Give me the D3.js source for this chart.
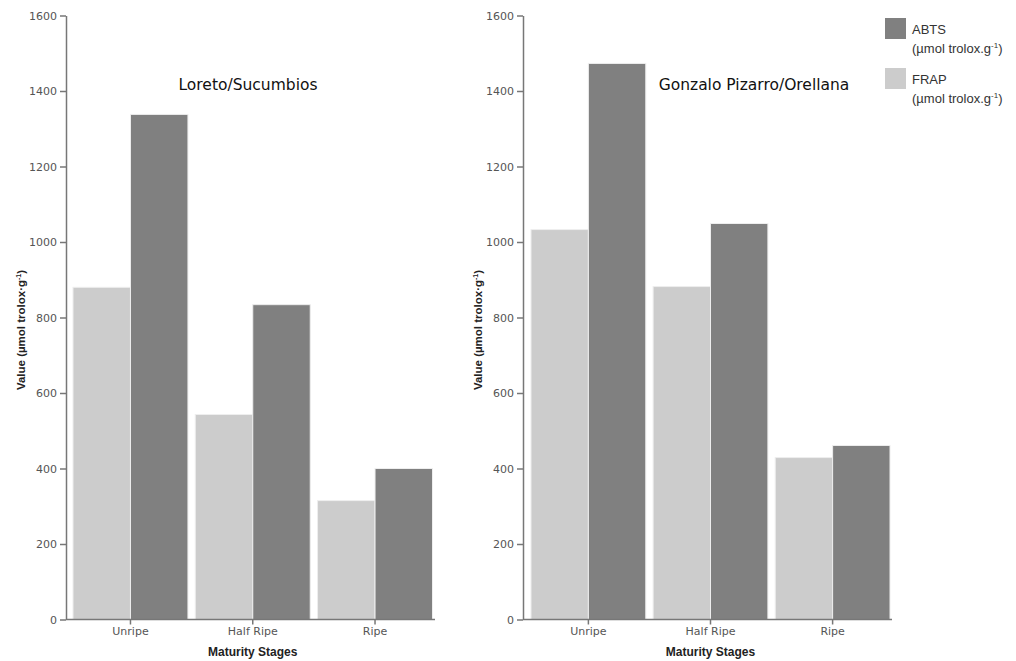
<!DOCTYPE html>
<html>
<head>
<meta charset="utf-8">
<script src="https://cdn.jsdelivr.net/npm/d3@7"></script>
<style>
  body { margin: 0; background: #fff; }
  svg { display: block; }
  .tick text { font-family: "DejaVu Sans", Verdana, sans-serif; font-size: 11px; fill: #555; }
  .tick line, .domain { stroke: #777; stroke-width: 1.5; }
</style>
</head>
<body>
<div id="chart"></div>
<script>
var stages = ["Unripe", "Half Ripe", "Ripe"];
var series = ["FRAP", "ABTS"];
var yTicks = [0, 200, 400, 600, 800, 1000, 1200, 1400, 1600];

var loretoFrap = [880, 543, 315];
var loretoAbts = [1338, 834, 400];
var gonzaloFrap = [1033, 882, 429];
var gonzaloAbts = [1473, 1049, 461];

var panels = [
    { title: "Loreto/Sucumbios", frap: loretoFrap, abts: loretoAbts, axisX: 66, x0: 73, x1: 432.5, xEnd: 435, titleX: 248 },
    { title: "Gonzalo Pizarro/Orellana", frap: gonzaloFrap, abts: gonzaloAbts, axisX: 523, x0: 531, x1: 890, xEnd: 892, titleX: 754 }
];

var width = 1016,
    height = 661,
    yTop = 15.5,
    yBottom = 619.5,
    colors = d3.scaleOrdinal()
        .domain(series)
        .range(["#cccccc", "#808080"]);

var svg = d3.select("#chart").append("svg")
    .attr("width", width)
    .attr("height", height);

var y = d3.scaleLinear()
    .domain([0, 1600])
    .range([yBottom, yTop]);

panels.forEach(function (p) {
    var g = svg.append("g");

    var x = d3.scaleBand()
        .domain(stages)
        .range([p.x0, p.x1])
        .paddingInner(0.06)
        .paddingOuter(0);

    var xs = d3.scaleBand()
        .domain(series)
        .range([0, x.bandwidth()]);

    var rows = stages.map(function (s, i) {
        return { stage: s, values: [
            { key: "FRAP", value: p.frap[i] },
            { key: "ABTS", value: p.abts[i] }
        ] };
    });

    g.selectAll("g.group")
        .data(rows)
        .enter().append("g")
        .attr("class", "group")
        .attr("transform", function (d) { return "translate(" + x(d.stage) + ",0)"; })
        .selectAll("rect")
        .data(function (d) { return d.values; })
        .enter().append("rect")
        .attr("x", function (d) { return xs(d.key); })
        .attr("y", function (d) { return y(d.value); })
        .attr("width", xs.bandwidth())
        .attr("height", function (d) { return yBottom - y(d.value); })
        .attr("fill", function (d) { return colors(d.key); })
        .attr("stroke", "#eeeeee")
        .attr("stroke-width", 1);

    // y axis
    g.append("g")
        .attr("transform", "translate(" + p.axisX + ",0)")
        .call(d3.axisLeft(y).tickValues(yTicks).tickFormat(d3.format("d")).tickSizeOuter(0));

    // x axis
    var xAxis = g.append("g")
        .attr("transform", "translate(0," + yBottom + ")")
        .call(d3.axisBottom(x).tickSize(5).tickSizeOuter(0));
    xAxis.select(".domain").remove();
    xAxis.append("line")
        .attr("x1", p.axisX)
        .attr("x2", p.xEnd)
        .attr("stroke", "#777")
        .attr("stroke-width", 1.5);

    g.append("text")
        .attr("x", p.titleX)
        .attr("y", 90)
        .attr("text-anchor", "middle")
        .style("font-family", "'DejaVu Sans', Verdana, sans-serif")
        .style("font-size", "15.5px")
        .style("fill", "#111")
        .text(p.title);

    g.append("text")
        .attr("x", (p.x0 + p.x1) / 2)
        .attr("y", 656)
        .attr("text-anchor", "middle")
        .style("font-family", "'Liberation Sans', Arial, sans-serif")
        .style("font-weight", "bold")
        .style("font-size", "12px")
        .style("fill", "#222")
        .text("Maturity Stages");

    var yl = g.append("text")
        .attr("transform", "translate(" + (p.axisX - 41) + ",330) rotate(-90)")
        .attr("text-anchor", "middle")
        .style("font-family", "'Liberation Sans', Arial, sans-serif")
        .style("font-weight", "bold")
        .style("font-size", "11.5px")
        .style("fill", "#222");
    yl.append("tspan").text("Value (\u00b5mol trolox\u00b7g");
    yl.append("tspan").attr("dy", -4).style("font-size", "7px").text("-1");
    yl.append("tspan").attr("dy", 4).text(")");
});

// legend
var legend = svg.append("g")
    .attr("transform", "translate(885,18)");

var items = legend.selectAll("g.item")
    .data(["ABTS", "FRAP"])
    .enter().append("g")
    .attr("class", "item")
    .attr("transform", function (d, i) { return "translate(0," + (i * 50) + ")"; });

items.append("rect")
    .attr("width", 21)
    .attr("height", 21)
    .attr("fill", function (d) { return colors(d); });

items.append("text")
    .attr("x", 27)
    .attr("y", 16)
    .style("font-family", "'Liberation Sans', Arial, sans-serif")
    .style("font-size", "13px")
    .style("fill", "#333")
    .text(function (d) { return d; });

var sub = items.append("text")
    .attr("x", 27)
    .attr("y", 35)
    .style("font-family", "'Liberation Sans', Arial, sans-serif")
    .style("font-size", "13px")
    .style("fill", "#333");
sub.append("tspan").text("(\u00b5mol trolox.g");
sub.append("tspan").attr("dy", -5).style("font-size", "8px").text("-1");
sub.append("tspan").attr("dy", 5).text(")");
</script>
</body>
</html>
